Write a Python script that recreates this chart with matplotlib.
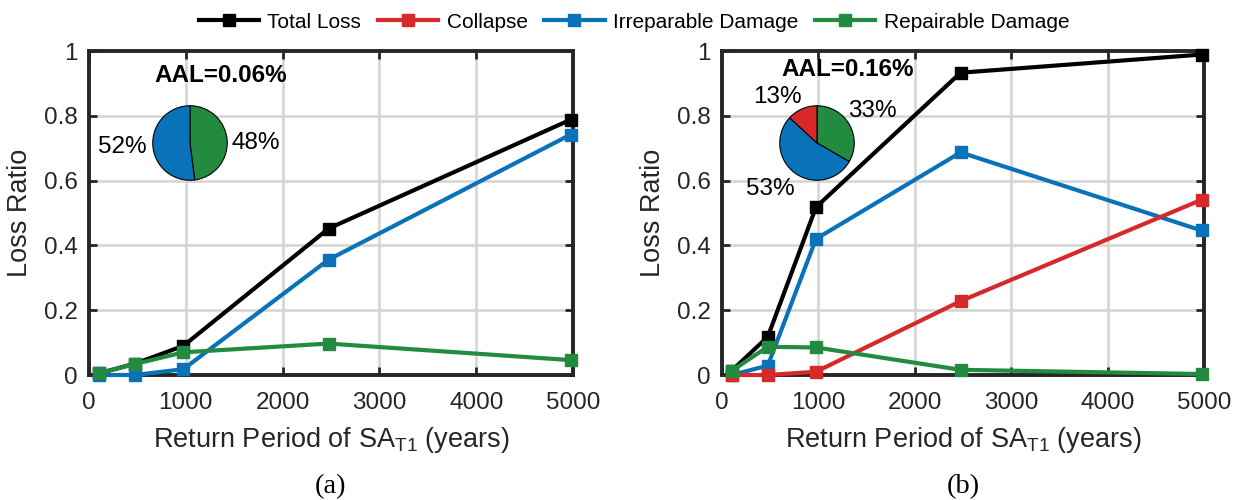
import matplotlib
matplotlib.use("Agg")
import matplotlib.pyplot as plt
from matplotlib.lines import Line2D

plt.rcParams['font.family'] = ['Liberation Sans', 'DejaVu Sans']

# return periods (years)
periods = [100, 475, 975, 2475, 4975]

# panel (a)
total_a = [0.005, 0.035, 0.090, 0.452, 0.788]
irrep_a = [0.000, 0.000, 0.018, 0.356, 0.742]
repair_a = [0.005, 0.034, 0.070, 0.097, 0.046]
pie_a = [48, 52]          # repairable, irreparable
aal_a = "AAL=0.06%"

# panel (b)
total_b = [0.013, 0.118, 0.518, 0.933, 0.989]
collapse_b = [0.000, 0.000, 0.010, 0.228, 0.541]
irrep_b = [0.000, 0.029, 0.420, 0.687, 0.446]
repair_b = [0.013, 0.087, 0.085, 0.016, 0.003]
pie_b = [33, 53, 13]      # repairable, irreparable, collapse
aal_b = "AAL=0.16%"

series_names = ["Total Loss", "Collapse", "Irreparable Damage", "Repairable Damage"]
xticks = [0, 1000, 2000, 3000, 4000, 5000]
yticks = [0, 0.2, 0.4, 0.6, 0.8, 1]
ytick_labels = ["0", "0.2", "0.4", "0.6", "0.8", "1"]

BLACK = "#000000"
RED = "#d7282a"
BLUE = "#0a72b8"
GREEN = "#238b40"
DARK = "#262626"

W, H = 1242, 500
fig = plt.figure(figsize=(W / 100, H / 100), dpi=100)


def px(x0, y0, x1, y1):
  # pixel box (top-left origin) -> figure fraction rect
  return [x0 / W, 1 - y1 / H, (x1 - x0) / W, (y1 - y0) / H]


def style(ax, label):
  ax.set_xlim(0, 5000)
  ax.set_ylim(0, 1)
  ax.set_xticks(xticks)
  ax.set_yticks(yticks)
  ax.set_yticklabels(ytick_labels)
  ax.grid(True, color="#d4d4d4", linewidth=1.8)
  ax.set_axisbelow(True)
  ax.tick_params(direction="in", length=6, width=2, top=True, right=True,
                 labelsize=17.5, colors=DARK)
  ax.tick_params(axis="x", pad=12)
  ax.tick_params(axis="y", pad=8)
  for s in ax.spines.values():
    s.set_linewidth(2.8)
    s.set_color(DARK)
  ax.set_ylabel("Loss Ratio", fontsize=19.5, color=DARK, labelpad=8)
  ax.set_xlabel("Return Period of SA$_{\\mathregular{T1}}$ (years)", fontsize=19.5,
                color=DARK, labelpad=8)
  bb = ax.get_position()
  fig.text((bb.x0 + bb.x1) / 2, 1 - 487 / H, label, ha="center", va="center",
           fontsize=20.5, family="Liberation Serif")


def line(ax, y, color):
  ax.plot(periods, y, color=color, linewidth=3, marker="s", markersize=8.5,
          clip_on=False, zorder=3)


def pie(rect, vals, colors):
  pa = fig.add_axes(px(*rect))
  pa.pie(vals, colors=colors, startangle=90, counterclock=False,
         wedgeprops=dict(edgecolor="black", linewidth=0.8))
  pa.set_aspect("auto")
  pa.set_xlim(-1.02, 1.02)
  pa.set_ylim(-1.02, 1.02)
  return pa


# panel (a)
ax1 = fig.add_axes(px(89, 51, 573, 375))
line(ax1, total_a, BLACK)
line(ax1, irrep_a, BLUE)
line(ax1, repair_a, GREEN)
style(ax1, "(a)")
pie((152, 105, 228, 181), pie_a, [GREEN, BLUE])

# panel (b)
ax2 = fig.add_axes(px(722, 51, 1204, 375))
line(ax2, total_b, BLACK)
line(ax2, irrep_b, BLUE)
line(ax2, collapse_b, RED)
line(ax2, repair_b, GREEN)
style(ax2, "(b)")
pie((779, 105, 855, 181), pie_b, [GREEN, BLUE, RED])

# annotation texts, centres in pixel coords (top-left origin)
notes = [
  (221, 75, aal_a, "bold"),
  (848, 70, aal_b, "bold"),
  (122, 147, "%d%%" % pie_a[1], "normal"),
  (256, 143, "%d%%" % pie_a[0], "normal"),
  (777, 97, "%d%%" % pie_b[2], "normal"),
  (872, 111, "%d%%" % pie_b[0], "normal"),
  (770, 189, "%d%%" % pie_b[1], "normal"),
]
for x, y, s, w in notes:
  fig.text(x / W, 1 - y / H, s, ha="center", va="center", fontsize=17.5,
           fontweight=w)

handles = [Line2D([], [], color=c, linewidth=3, marker="s", markersize=8)
           for c in [BLACK, RED, BLUE, GREEN]]
fig.legend(handles, series_names, loc="center", bbox_to_anchor=(634 / W, 1 - 22 / H),
           ncol=4, frameon=False, fontsize=15, handlelength=2.9,
           columnspacing=0.8, handletextpad=0.4)

fig.savefig("out.png", dpi=100)
